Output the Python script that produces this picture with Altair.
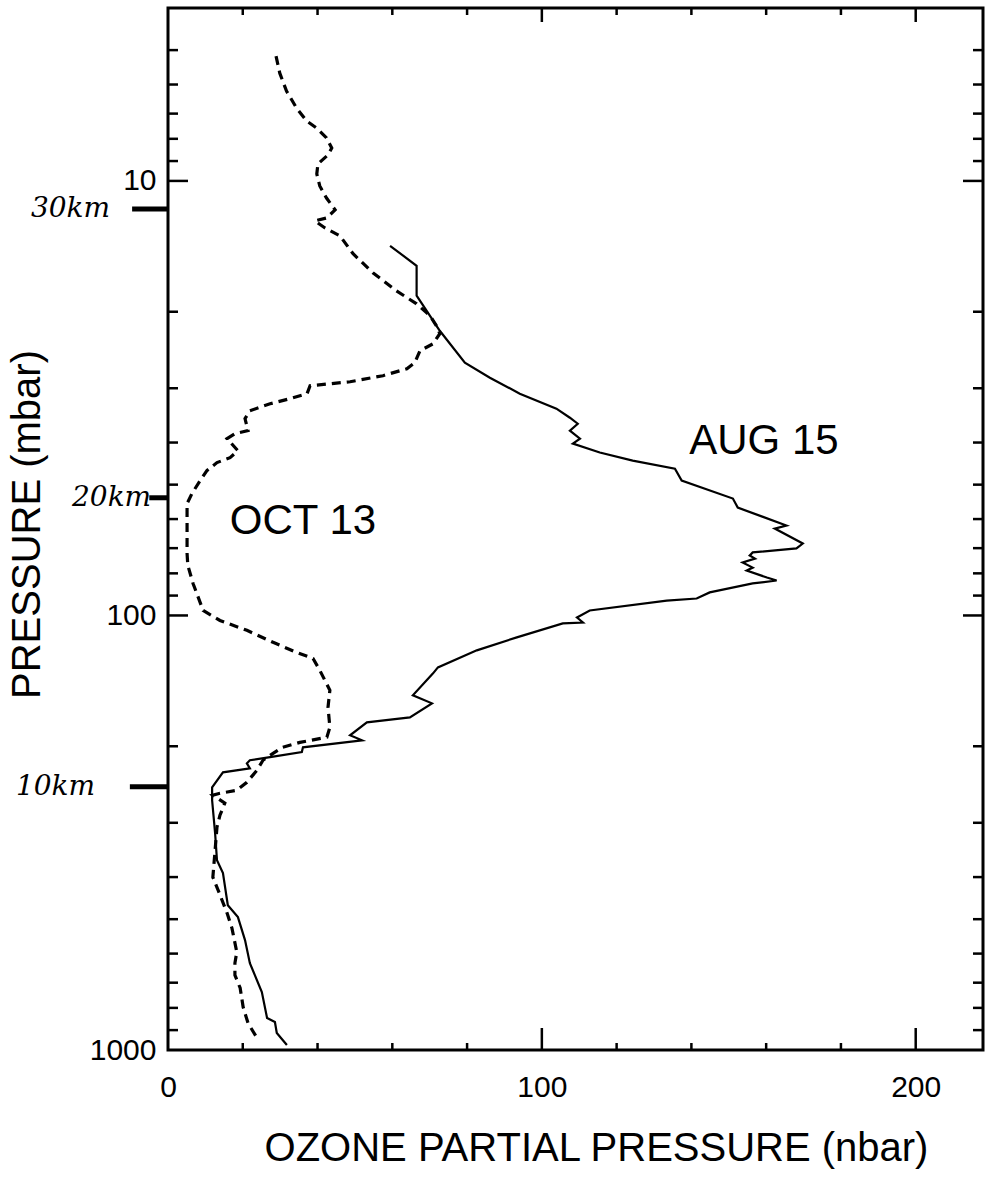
import altair as alt
import pandas as pd

# ---------------- data ----------------
oct_ozone = [28.9, 29.9, 31.7, 34.4, 37.1, 39.8, 42.4, 43.8, 42.8, 40.1, 39.8, 40.6, 42.4, 44.7, 42.4,
             39.3, 42.0, 46.0, 49.5, 54.8, 61.1, 66.5, 70.1, 71.8, 72.7, 70.9, 67.4, 66.0, 63.9, 57.5,
             48.7, 38.0, 37.2, 32.6, 27.3, 21.9, 20.6, 21.4, 17.9, 15.8, 18.7, 16.6, 13.1, 10.4, 8.6,
             6.4, 5.1, 5.1, 5.1, 5.3, 6.7, 9.4, 13.9, 21.1, 28.1, 34.5, 38.8, 40.6, 43.3, 42.8,
             43.3, 42.5, 35.3, 30.7, 28.1, 25.4, 23.8, 21.1, 18.4, 13.9, 12.0, 15.2, 13.9, 13.1, 12.6,
             12.0, 13.4, 15.8, 17.1, 18.4, 17.9, 17.9, 19.3, 20.1, 21.4, 23.8]
oct_pressure = [5.16, 5.65, 6.21, 6.80, 7.28, 7.56, 7.96, 8.40, 8.71, 9.14, 9.64, 10.27, 10.95, 11.66, 12.17,
                12.36, 12.83, 13.38, 14.71, 16.27, 17.90, 19.18, 20.43, 21.55, 22.47, 23.70, 24.59, 26.20, 27.05, 28.07,
                28.98, 29.60, 30.87, 31.70, 32.58, 33.80, 35.24, 37.56, 38.17, 39.19, 41.77, 43.33, 44.48, 46.42, 48.94,
                52.42, 55.27, 60.5, 72.0, 76.7, 84.4, 97.4, 102.7, 108.2, 115.3, 121.7, 125.6, 133.7, 148.6, 162.6,
                181.0, 190.6, 195.9, 201.1, 207.6, 215.4, 227.1, 242.0, 252.6, 256.6, 259.2, 270.4, 288.2, 307.0, 346.7,
                400.2, 428.6, 484.2, 524.2, 595.2, 631.0, 672.5, 720.0, 796.5, 867.0, 938.0]

aug_ozone = [59.4, 66.5, 66.5, 69.2, 72.7, 79.4, 86.1, 94.1, 103.9, 107.5, 109.6, 107.5, 110.2, 108.3, 115.5,
             124.3, 135.6, 137.4, 151.1, 152.4, 165.4, 162.3, 169.8, 168.1, 156.4, 155.6, 157.0, 153.7, 156.4, 154.8,
             160.2, 162.8, 156.4, 144.9, 141.4, 133.4, 112.8, 109.4, 111.0, 105.6, 93.3, 82.6, 72.2, 70.9, 65.5,
             70.6, 64.7, 53.2, 48.7, 51.9, 36.1, 35.8, 27.3, 21.9, 21.1, 21.9, 14.7, 11.8, 11.8, 12.6,
             13.1, 14.7, 16.0, 18.7, 20.6, 21.9, 25.1, 26.5, 28.6, 29.1, 31.8]
aug_pressure = [14.10, 15.68, 18.37, 19.90, 22.12, 26.20, 28.37, 30.87, 33.43, 35.07, 36.20, 37.56, 39.19, 40.24, 42.18,
                44.02, 45.94, 48.94, 53.83, 56.46, 62.1, 63.1, 68.3, 70.1, 71.6, 72.8, 74.0, 75.5, 77.6, 78.8,
                81.8, 83.1, 84.4, 88.5, 91.4, 92.4, 97.4, 101.1, 103.8, 104.3, 112.3, 120.3, 131.7, 135.9, 152.7,
                159.3, 171.6, 176.2, 188.7, 193.8, 201.1, 206.3, 211.8, 215.4, 218.9, 224.8, 229.6, 248.5, 266.2, 317.0,
                365.7, 391.7, 464.3, 494.6, 558.5, 631.0, 736.0, 844.0, 862.0, 914.0, 974.0]

y_labels = [10, 100, 1000]
x_labels = [0, 100, 200]
y_minor_ticks = [5, 6, 7, 8, 9, 20, 30, 40, 50, 60, 70, 80, 90, 200, 300, 400, 500, 600, 700, 800, 900]
y_major_ticks = [10, 100]
x_minor_ticks = [20, 40, 60, 80, 120, 140, 160, 180]
x_major_ticks = [100, 200]

curve_labels = ["OCT 13", "AUG 15"]
curve_label_x = [36.1, 159.4]
curve_label_p = [60.5, 39.6]

km_labels = ["30km", "20km", "10km"]
km_label_x = [-15.5, -4.5, -19.5]
km_label_p = [11.6, 53.6, 248.0]
km_mark_x1 = [-9.6, -5.0, -10.2]
km_mark_x2 = [0.0, 0.0, 0.0]

# ---------------- layout ----------------
W, H = 815, 1042
FONT = "Liberation Sans"

xs = alt.Scale(domain=[0, 218], nice=False, zero=False)
ys = alt.Scale(type="log", domain=[4, 1000], reverse=True, nice=False)

oct_df = pd.DataFrame({"ozone": oct_ozone, "pressure": oct_pressure})
oct_df["i"] = range(len(oct_df))
aug_df = pd.DataFrame({"ozone": aug_ozone, "pressure": aug_pressure})
aug_df["i"] = range(len(aug_df))

x_axis = alt.Axis(values=x_labels, format="d", ticks=False, tickSize=0, domain=False, grid=False,
                  labelFontSize=30, labelFont=FONT, labelColor="black", labelPadding=22,
                  labelFlush=False, labelBaseline="top",
                  title="OZONE PARTIAL PRESSURE (nbar)", titleFont=FONT, titleFontSize=40,
                  titleFontWeight="normal", titleColor="black", titleX=428, titleY=98,
                  titleAlign="center", titleBaseline="middle")
y_axis = alt.Axis(values=y_labels, format="d", ticks=False, tickSize=0, domain=False, grid=False,
                  labelFontSize=30, labelFont=FONT, labelColor="black", labelPadding=12,
                  labelFlush=False,
                  title="PRESSURE (mbar)", titleFont=FONT, titleFontSize=40,
                  titleFontWeight="normal", titleColor="black", titleX=-141, titleY=516,
                  titleAngle=270, titleAlign="center", titleBaseline="middle")

oct_line = alt.Chart(oct_df).mark_line(color="black", strokeWidth=3.2, strokeDash=[9, 6]).encode(
    x=alt.X("ozone:Q", scale=xs, axis=x_axis),
    y=alt.Y("pressure:Q", scale=ys, axis=y_axis),
    order="i:Q",
)
aug_line = alt.Chart(aug_df).mark_line(color="black", strokeWidth=2.2).encode(
    x=alt.X("ozone:Q", scale=xs),
    y=alt.Y("pressure:Q", scale=ys),
    order="i:Q",
)

ymin = pd.DataFrame({"p": y_minor_ticks})
ymaj = pd.DataFrame({"p": y_major_ticks})
xmin = pd.DataFrame({"v": x_minor_ticks})
xmaj = pd.DataFrame({"v": x_major_ticks})


def yrule(df, a, b, w=2.5):
    return alt.Chart(df).mark_rule(color="black", strokeWidth=w).encode(
        y=alt.Y("p:Q", scale=ys), x=alt.value(a), x2=alt.value(b))


def xrule(df, a, b, w=2.5):
    return alt.Chart(df).mark_rule(color="black", strokeWidth=w).encode(
        x=alt.X("v:Q", scale=xs), y=alt.value(a), y2=alt.value(b))


ticks = [
    yrule(ymin, 0, 10), yrule(ymaj, 0, 20),
    yrule(ymin, W, W - 10), yrule(ymaj, W, W - 20),
    xrule(xmin, H, H - 7), xrule(xmaj, H, H - 22),
    xrule(xmin, 0, 7), xrule(xmaj, 0, 14),
]

lab_df = pd.DataFrame({"t": curve_labels, "x": curve_label_x, "p": curve_label_p})
labels = alt.Chart(lab_df).mark_text(font=FONT, fontSize=42, color="black",
                                     align="center", baseline="middle").encode(
    x=alt.X("x:Q", scale=xs), y=alt.Y("p:Q", scale=ys), text="t:N")

km_df = pd.DataFrame({"t": km_labels, "x": km_label_x, "p": km_label_p,
                      "x1": km_mark_x1, "x2": km_mark_x2})
km_text = alt.Chart(km_df).mark_text(font="DejaVu Serif", fontStyle="italic", fontSize=28,
                                     color="black", align="right", baseline="middle").encode(
    x=alt.X("x:Q", scale=xs), y=alt.Y("p:Q", scale=ys), text="t:N")
km_marks = alt.Chart(km_df).mark_rule(color="black", strokeWidth=5).encode(
    x=alt.X("x1:Q", scale=xs), x2="x2:Q", y=alt.Y("p:Q", scale=ys))

chart = alt.layer(oct_line, aug_line, *ticks, labels, km_text, km_marks).properties(
    width=W, height=H,
    background="white",
    autosize=alt.AutoSizeParams(type="none"),
    padding={"left": 168, "top": 8, "right": 5, "bottom": 130},
).configure_view(stroke="black", strokeWidth=3)

chart.save("out.html", embed_options={"renderer": "svg", "actions": False})
